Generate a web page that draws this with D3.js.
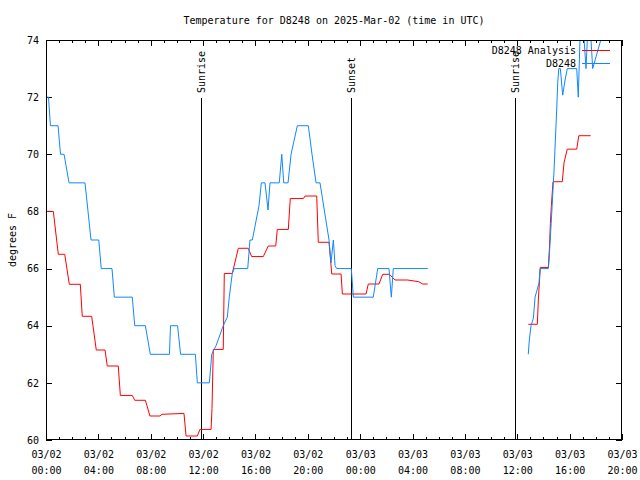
<!DOCTYPE html>
<html><head><meta charset="utf-8">
<script src="https://cdn.jsdelivr.net/npm/d3@7"></script>
<style>
body{margin:0;background:#fff}
text{font-family:"DejaVu Sans Mono",monospace;font-size:10px;fill:#000}
</style></head><body>
<svg id="c" width="640" height="480"></svg>
<script>
// ---------- data ----------
const titleText = "Temperature for D8248 on 2025-Mar-02 (time in UTC)";
const yLabel = "degrees F";
const majorHours = [0,4,8,12,16,20,24,28,32,36,40,44];
const tickDates = ["03/02","03/02","03/02","03/02","03/02","03/02","03/03","03/03","03/03","03/03","03/03","03/03"];
const tickTimes = ["00:00","04:00","08:00","12:00","16:00","20:00","00:00","04:00","08:00","12:00","16:00","20:00"];
const yTicks = [60,62,64,66,68,70,72,74];
const sunLabels = ["Sunrise","Sunset","Sunrise"];
const sunHours = [11.84, 23.30, 35.83];
const seriesNames = ["D8248 Analysis","D8248"];

// observations (D8248), hours since 03/02 00:00 UTC
const obsHours = [0,0.19,0.34,0.92,1.11,1.38,1.76,2.98,3.21,3.44,4.03,4.22,5.04,5.22,6.59,6.78,7.59,7.97,9.43,9.51,10.05,10.28,11.41,11.56,12.48,12.66,12.99,13.54,13.85,14.00,14.23,14.38,15.41,15.58,15.76,16.27,16.45,16.73,16.96,17.11,17.82,18.01,18.16,18.49,18.72,19.20,20.04,20.32,20.63,20.93,21.62,21.77,21.95,22.08,22.21,23.32,23.48,25.00,25.34,26.20,26.38,26.53,29.16,
  33.0,
  36.84,36.92,37.05,37.23,37.36,37.66,37.74,38.37,38.43,38.56,38.66,38.81,38.91,39.01,39.09,39.17,39.29,39.47,39.65,39.82,40.54,40.66,40.79,40.87,41.02,41.25,41.41,41.56,41.76,42.38,42.55];
const obsTemps = [72,72,71,71,70,70,69,69,68,67,67,66,66,65,65,64,64,63,63,64,64,63,63,62,62,63,63.3,64,64.3,65,65.83,66,66,67,67,68.2,69,69,68.05,69,69,70,69,69,70,71,71,70,69,69,67,66.2,67,66.1,66,66,65,65,66,66,65,66,66,
  null,
  63,63.5,64,64.26,65,65.5,66,66,66.3,67.35,68.17,69.45,70.5,71.55,72.5,73,73,72.07,72.6,73,73,72,74,74.6,74.6,73,74.6,74.6,73,74,74.5];

// analysis (D8248 Analysis)
const anaHours = [0,0.56,0.94,1.43,1.78,2.62,2.77,3.49,3.84,4.51,4.68,5.52,5.68,6.59,6.78,7.59,7.94,8.71,8.86,10.54,10.70,11.56,11.76,12.61,12.68,12.78,13.54,13.62,14.23,14.69,15.45,15.71,16.60,16.98,17.55,17.67,18.51,18.66,19.66,19.79,20.68,20.80,21.62,21.83,22.54,22.64,24.45,24.62,25.44,25.72,26.23,26.66,27.63,28.47,28.78,29.16,
  33.0,
  36.84,37.53,37.62,37.76,38.37,38.45,38.53,38.60,38.73,39.44,39.57,39.82,40.54,40.70,41.61];
const anaTemps = [68,68,66.5,66.5,65.45,65.45,64.33,64.33,63.15,63.15,62.59,62.59,61.56,61.56,61.39,61.39,60.84,60.84,60.9,60.93,60.14,60.14,60.37,60.37,61.1,63.17,63.17,65.83,65.83,66.71,66.71,66.42,66.42,66.79,66.79,67.37,67.37,68.45,68.45,68.54,68.54,66.92,66.92,65.81,65.81,65.11,65.11,65.46,65.46,65.8,65.8,65.6,65.6,65.54,65.46,65.46,
  null,
  64.05,64.05,65,66.04,66.04,66.65,67.58,68.17,69.04,69.04,69.7,70.18,70.18,70.65,70.65];

const colors = ["#ff0000","#0f88ff"];

// ---------- layout ----------
const L = 46, R = 622, T = 40, B = 440;
const svg = d3.select("#c");
const x = d3.scaleLinear().domain([0,44]).range([L,R]);
const y = d3.scaleLinear().domain([60,74]).range([B,T]);

svg.append("text").attr("x",(L+R)/2).attr("y",24).attr("text-anchor","middle").text(titleText);

svg.append("defs").append("clipPath").attr("id","clip")
  .append("rect").attr("x",L).attr("y",T).attr("width",R-L).attr("height",B-T);

// axes
const minorHours = d3.range(0,45,1).filter(h => !majorHours.includes(h));
function styleAxis(g){ g.select(".domain").remove(); g.selectAll("line").attr("stroke","#000").attr("shape-rendering","crispEdges"); }

svg.append("g").attr("transform",`translate(0,${B})`)
  .call(d3.axisBottom(x).tickValues(minorHours).tickSize(-3).tickFormat("")).call(styleAxis);
svg.append("g").attr("transform",`translate(0,${T})`)
  .call(d3.axisTop(x).tickValues(minorHours).tickSize(-3).tickFormat("")).call(styleAxis);
svg.append("g").attr("transform",`translate(0,${T})`)
  .call(d3.axisTop(x).tickValues(majorHours).tickSize(-6).tickFormat("")).call(styleAxis);

const xb = svg.append("g").attr("transform",`translate(0,${B})`)
  .call(d3.axisBottom(x).tickValues(majorHours).tickSize(-6).tickFormat((d,i)=>tickDates[i]))
  .call(styleAxis);
xb.selectAll(".tick text").each(function(d,i){
  const t = d3.select(this).attr("y",null).attr("dy",null).attr("font-size",null).attr("font-family",null).text(null);
  t.append("tspan").attr("x",0).attr("y",18).text(tickDates[i]);
  t.append("tspan").attr("x",0).attr("y",34).text(tickTimes[i]);
});

const yl = svg.append("g").attr("transform",`translate(${L},0)`)
  .call(d3.axisLeft(y).tickValues(yTicks).tickSize(-6).tickPadding(7)).call(styleAxis);
yl.selectAll("text").attr("font-size",null).attr("font-family",null);
svg.append("g").attr("transform",`translate(${R},0)`)
  .call(d3.axisRight(y).tickValues(yTicks).tickSize(-6).tickFormat("")).call(styleAxis);

svg.selectAll(".tick text").style("fill","#000");

svg.append("text").attr("transform","translate(12,240) rotate(-90)")
  .attr("text-anchor","middle").attr("dy","0.35em").text(yLabel);

// sun lines
sunHours.forEach((h,i)=>{
  svg.append("line").attr("x1",Math.round(x(h))+0.5).attr("x2",Math.round(x(h))+0.5)
    .attr("y1",B).attr("y2",98).attr("stroke","#000").attr("stroke-width",1);
  svg.append("text").attr("transform",`translate(${Math.round(x(h))+0.5},93) rotate(-90)`)
    .attr("dy","0.35em").attr("text-anchor","start").text(sunLabels[i]);
});

// lines
const line = d3.line().defined(d=>d[1]!==null).x(d=>x(d[0])).y(d=>y(d[1]));
const plot = svg.append("g").attr("clip-path","url(#clip)");
plot.append("path").datum(anaHours.map((h,i)=>[h,anaTemps[i]]))
  .attr("d",line).attr("fill","none").attr("stroke",colors[0]).attr("stroke-width",1);
plot.append("path").datum(obsHours.map((h,i)=>[h,obsTemps[i]]))
  .attr("d",line).attr("fill","none").attr("stroke",colors[1]).attr("stroke-width",1);

// legend
seriesNames.forEach((n,i)=>{
  const ly = 50 + i*13;
  svg.append("text").attr("x",576).attr("y",ly+4).attr("text-anchor","end").text(n);
  svg.append("line").attr("x1",582).attr("x2",610).attr("y1",ly+0.5).attr("y2",ly+0.5)
    .attr("stroke",colors[i]).attr("stroke-width",1);
});

// border
svg.append("rect").attr("x",L+0.5).attr("y",T+0.5).attr("width",R-L-1).attr("height",B-T-1)
  .attr("fill","none").attr("stroke","#000").attr("stroke-width",1);
</script>
</body></html>
